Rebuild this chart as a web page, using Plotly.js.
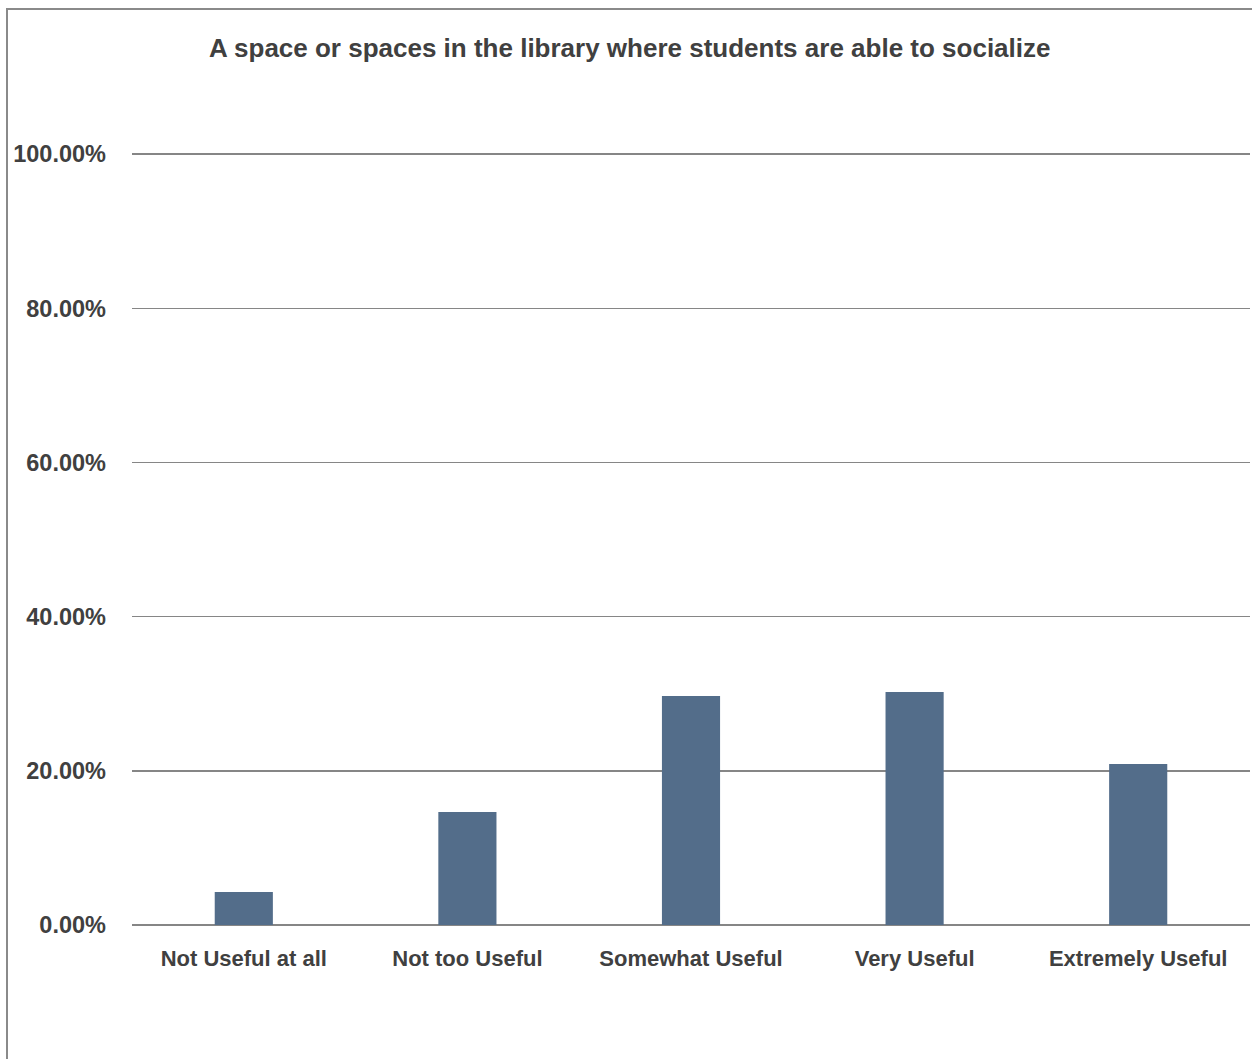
<!DOCTYPE html>
<html>
<head>
<meta charset="utf-8">
<script src="https://cdn.plot.ly/plotly-3.0.1.min.js"></script>
<style>
html,body{margin:0;padding:0;background:#fff;overflow:hidden;}
#chart{width:1252px;height:1059px;position:relative;}
#frame{position:absolute;left:6px;top:8px;width:1300px;height:1100px;border:2px solid #8a8a8a;pointer-events:none;}
</style>
</head>
<body>
<div id="chart"></div>
<div id="frame"></div>
<script>
var categories = ["Not Useful at all", "Not too Useful", "Somewhat Useful", "Very Useful", "Extremely Useful"];
var shares = [0.0428, 0.1466, 0.2970, 0.3022, 0.2088];
var chartTitle = "A space or spaces in the library where students are able to socialize";

var fontFam = '"Liberation Sans", Arial, sans-serif';

var trace = {
  type: 'bar',
  x: categories,
  y: shares,
  marker: {color: '#536d8a'},
  hoverinfo: 'x+y'
};

var layout = {
  width: 1252,
  height: 1059,
  margin: {l: 132, r: 2, t: 153, b: 134},
  paper_bgcolor: '#ffffff',
  plot_bgcolor: '#ffffff',
  showlegend: false,
  bargap: 0.74,
  title: {
    text: '<b>' + chartTitle + '</b>',
    font: {family: fontFam, size: 26, color: '#404040'},
    x: 0.503, xanchor: 'center',
    y: 0.955, yanchor: 'middle'
  },
  xaxis: {
    type: 'category',
    showgrid: false,
    showline: false,
    zeroline: false,
    ticks: '',
    ticklabelstandoff: 18,
    tickfont: {family: fontFam, size: 22, color: '#404040', weight: 'bold'}
  },
  yaxis: {
    range: [0, 1.0015],
    tickvals: [0, 0.2, 0.4, 0.6, 0.8, 1.0],
    tickformat: '.2%',
    showgrid: true,
    gridcolor: '#868686',
    gridwidth: 1.5,
    zeroline: true,
    zerolinecolor: '#868686',
    zerolinewidth: 1.5,
    showline: false,
    ticks: '',
    ticklabelstandoff: 25,
    tickfont: {family: fontFam, size: 23.5, color: '#404040', weight: 'bold'}
  }
};

Plotly.newPlot('chart', [trace], layout, {displayModeBar: false, staticPlot: true});
</script>
</body>
</html>
